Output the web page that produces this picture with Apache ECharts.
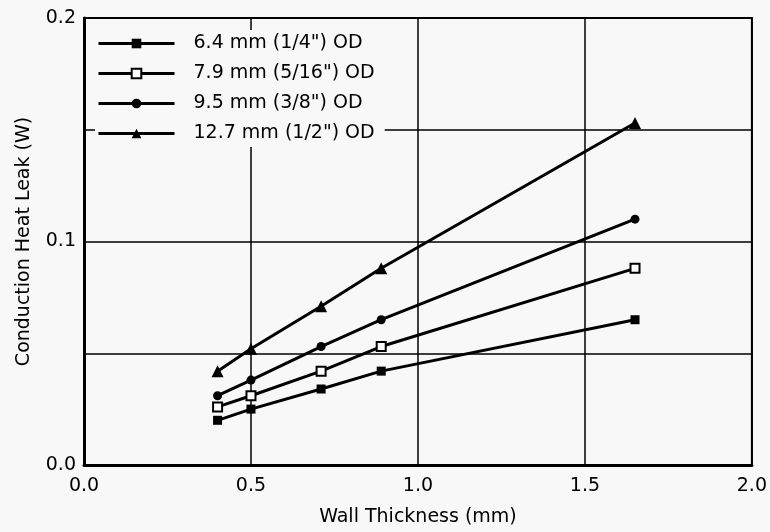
<!DOCTYPE html>
<html>
<head>
<meta charset="utf-8">
<script src="https://cdn.jsdelivr.net/npm/echarts@6/dist/echarts.min.js"></script>
<style>
  html, body { margin: 0; padding: 0; background: #f8f8f8; }
  #chart { width: 770px; height: 532px; }
</style>
</head>
<body>
<div id="chart"></div>
<script>
// wall thickness (mm)
const wallThickness = [0.40, 0.50, 0.71, 0.89, 1.65];
// conduction heat leak (W) per tube OD
const od64 = [0.020, 0.025, 0.034, 0.042, 0.065];
const od79 = [0.026, 0.031, 0.042, 0.053, 0.088];
const od95 = [0.031, 0.038, 0.053, 0.065, 0.110];
const od127 = [0.042, 0.052, 0.071, 0.088, 0.153];

const seriesNames = [
  '6.4 mm (1/4") OD',
  '7.9 mm (5/16") OD',
  '9.5 mm (3/8") OD',
  '12.7 mm (1/2") OD'
];

const pairs = (ys) => wallThickness.map((x, i) => [x, ys[i]]);

// 线型 + 标记
function makeSeries(name, ys, symbol, size, fill) {
  return {
    name: name,
    type: 'line',
    data: pairs(ys),
    symbol: symbol,
    symbolSize: size,
    showSymbol: true,
    lineStyle: { color: '#000', width: 3 },
    itemStyle: { color: fill, borderColor: '#000', borderWidth: fill === '#000' ? 0 : 2 },
    emphasis: { disabled: true },
    z: 3
  };
}

const chart = echarts.init(document.getElementById('chart'));
const font = 'DejaVu Sans, Liberation Sans, sans-serif';

chart.setOption({
  backgroundColor: '#f8f8f8',
  animation: false,
  grid: {
    left: 84, right: 16, top: 18, bottom: 66,
    show: true, borderColor: '#000', borderWidth: 2
  },
  legend: {
    orient: 'vertical',
    left: 95, top: 30,
    itemWidth: 76, itemHeight: 12, itemGap: 11,
    backgroundColor: '#f8f8f8',
    padding: [4, 10, 4, 2],
    lineStyle: { width: 3 },
    textStyle: { color: '#000', fontSize: 19, fontFamily: font, padding: [0, 0, 0, 14] },
    data: seriesNames
  },
  xAxis: {
    type: 'value',
    min: 0, max: 2, interval: 0.5,
    name: 'Wall Thickness (mm)',
    nameLocation: 'middle', nameGap: 43,
    nameTextStyle: { color: '#000', fontSize: 19, fontFamily: font },
    axisLine: { show: true, lineStyle: { color: '#000', width: 3 } },
    axisTick: { show: false },
    axisLabel: { color: '#000', fontSize: 19, fontFamily: font, margin: 12,
      formatter: v => v.toFixed(1) },
    splitLine: { show: true, lineStyle: { color: '#000', width: 1.5 } }
  },
  yAxis: {
    type: 'value',
    min: 0, max: 0.2, interval: 0.05,
    name: 'Conduction Heat Leak (W)',
    nameLocation: 'middle', nameGap: 50,
    nameTextStyle: { color: '#000', fontSize: 19, fontFamily: font },
    axisLine: { show: true, lineStyle: { color: '#000', width: 3 } },
    axisTick: { show: false },
    axisLabel: { color: '#000', fontSize: 19, fontFamily: font, margin: 8,
      formatter: v => (Math.round(v * 100) % 10 === 0 ? v.toFixed(1) : '') },
    splitLine: { show: true, lineStyle: { color: '#000', width: 1.5 } }
  },
  series: [
    makeSeries(seriesNames[0], od64, 'rect', 9, '#000'),
    makeSeries(seriesNames[1], od79, 'rect', 9, '#fff'),
    makeSeries(seriesNames[2], od95, 'circle', 9, '#000'),
    makeSeries(seriesNames[3], od127, 'triangle', 12, '#000')
  ]
});
</script>
</body>
</html>
